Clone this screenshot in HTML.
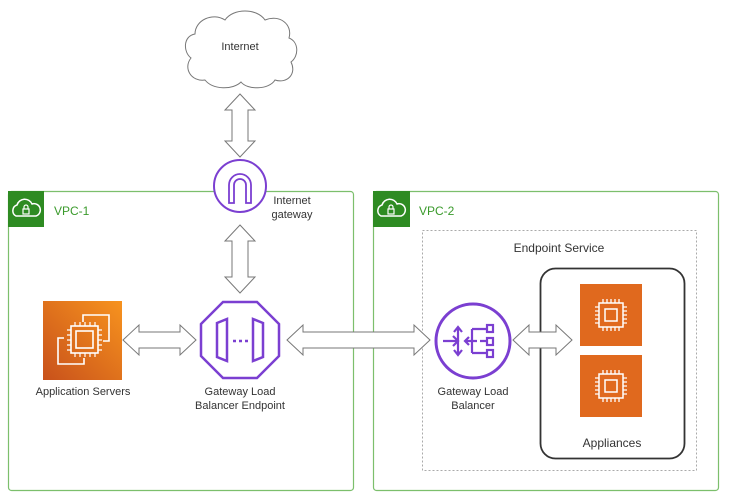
<!DOCTYPE html>
<html><head><meta charset="utf-8"><style>
html,body{margin:0;padding:0;background:#fff;}
svg{display:block;font-family:"Liberation Sans",sans-serif;}
</style></head><body>
<svg width="729" height="502" viewBox="0 0 729 502" xmlns="http://www.w3.org/2000/svg">
<defs>
<g id="lock"><path d="M-10,5 a6,6 0 0 1 1,-11 a8,8 0 0 1 15,-1 a6,6 0 0 1 4,12 z" fill="none" stroke="#fff" stroke-width="1.5"/><rect x="-3" y="-2" width="6" height="5" fill="none" stroke="#fff" stroke-width="1.2"/><path d="M-2,-2 v-2 a2,2 0 0 1 4,0 v2" fill="none" stroke="#fff" stroke-width="1.2"/></g>
<linearGradient id="og" x1="0" y1="1" x2="1" y2="0"><stop offset="0" stop-color="#c8511b"/><stop offset="1" stop-color="#f7931e"/></linearGradient>
<g id="chip"><rect x="-12" y="-12" width="24" height="24" fill="none" stroke="#fff" stroke-width="1.5"/><rect x="-6" y="-6" width="12" height="12" fill="none" stroke="#fff" stroke-width="1.5"/>
<path d="M-8,-12v-4M-4,-12v-4M0,-12v-4M4,-12v-4M8,-12v-4M-8,12v4M-4,12v4M0,12v4M4,12v4M8,12v4M-12,-8h-4M-12,-4h-4M-12,0h-4M-12,4h-4M-12,8h-4M12,-8h4M12,-4h4M12,0h4M12,4h4M12,8h4" stroke="#fff" stroke-width="1.3"/></g>
</defs>
<rect x="8.5" y="191.5" width="345" height="299" rx="3" fill="none" stroke="#7cbf6c" stroke-width="1.2"/>
<rect x="8" y="191" width="36" height="36" fill="#2e8b22"/>
<use href="#lock" x="26" y="211"/>
<text x="54" y="215" font-size="12" fill="#3a9a2b">VPC-1</text>
<rect x="373.5" y="191.5" width="345" height="299" rx="3" fill="none" stroke="#7cbf6c" stroke-width="1.2"/>
<rect x="373" y="191" width="37" height="36" fill="#2e8b22"/>
<use href="#lock" x="391" y="211"/>
<text x="419" y="215" font-size="12" fill="#3a9a2b">VPC-2</text>
<rect x="422.5" y="230.5" width="274" height="240" fill="none" stroke="#aaa" stroke-dasharray="2,2"/>
<text x="559" y="252" font-size="12" text-anchor="middle" fill="#333">Endpoint Service</text>
<rect x="540.5" y="268.5" width="144" height="190" rx="15" fill="none" stroke="#333" stroke-width="1.8"/>
<text x="612" y="447" font-size="12" text-anchor="middle" fill="#333">Appliances</text>
<rect x="580" y="284" width="62" height="62" fill="#e0691e"/><use href="#chip" x="611" y="315"/>
<rect x="580" y="355" width="62" height="62" fill="#e0691e"/><use href="#chip" x="611" y="386"/>
<path d="M205,80 c-14,2 -22,-12 -14,-22 c-8,-6 -8,-22 4,-24 c0,-14 18,-22 30,-14 c8,-12 32,-12 40,0 c14,-6 28,4 24,18 c10,4 10,18 2,24 c6,12 -4,22 -16,18 c-6,10 -28,10 -34,2 c-8,8 -28,8 -36,-2 z" fill="#fff" stroke="#777" stroke-width="1"/>
<text x="240" y="50" font-size="11" text-anchor="middle" fill="#333">Internet</text>
<g fill="#fff" stroke="#777" stroke-width="1">
<polygon points="240,94 255,110 248,110 248,141 255,141 240,157 225,141 232,141 232,110 225,110"/>
<polygon points="240,225 255,241 248,241 248,277 255,277 240,293 225,277 232,277 232,241 225,241"/>
<polygon points="123,340 139,325 139,332 180,332 180,325 196,340 180,355 180,348 139,348 139,355"/>
<polygon points="287,340 303,325 303,332 414,332 414,325 430,340 414,355 414,348 303,348 303,355"/>
<polygon points="513,340 529,325 529,332 556,332 556,325 572,340 556,355 556,348 529,348 529,355"/>
</g>
<circle cx="240" cy="186" r="26" fill="#fff" stroke="#7b3fd1" stroke-width="2"/>
<path d="M229,203 v-18 a11,11 0 0 1 22,0 v18 h-5 v-18 a6,6 0 0 0 -12,0 v18 z" fill="none" stroke="#7b3fd1" stroke-width="1.8"/>
<text x="292" y="204" font-size="11" text-anchor="middle" fill="#333">Internet</text>
<text x="292" y="218" font-size="11" text-anchor="middle" fill="#333">gateway</text>
<rect x="43" y="301" width="79" height="79" fill="url(#og)"/>
<g fill="none" stroke="#fff" stroke-width="1.6">
<path d="M83,322 v-7 h26 v26 h-6"/>
<path d="M64,338 h-6 v26 h26 v-6"/>
<rect x="71" y="326" width="27" height="27"/>
<rect x="76" y="331" width="17" height="17"/>
<path d="M75,326v-4M80,326v-4M85,326v-4M90,326v-4M95,326v-4M75,353v4M80,353v4M85,353v4M90,353v4M95,353v4M71,330h-4M71,335h-4M71,340h-4M71,345h-4M71,350h-4M98,330h4M98,335h4M98,340h4M98,345h4M98,350h4" stroke-width="1.2"/>
</g>
<text x="83" y="395" font-size="11" text-anchor="middle" fill="#333">Application Servers</text>
<polygon points="223,302 257,302 279,324 279,356 257,378 223,378 201,356 201,324" fill="#fff" stroke="#7b3fd1" stroke-width="2.5"/>
<path d="M217,323 l10,-4 v42 l-10,-4 z M263,323 l-10,-4 v42 l10,-4 z" fill="none" stroke="#7b3fd1" stroke-width="2.5"/>
<path d="M233,341h3M239,341h3M245,341h3" stroke="#7b3fd1" stroke-width="2.5"/>
<text x="240" y="395" font-size="11" text-anchor="middle" fill="#333">Gateway Load</text>
<text x="240" y="409" font-size="11" text-anchor="middle" fill="#333">Balancer Endpoint</text>
<circle cx="473" cy="341" r="37" fill="#fff" stroke="#7b3fd1" stroke-width="3"/>
<g fill="none" stroke="#7b3fd1" stroke-width="2.2">
<path d="M443,341 h14 M453,336 l5,5 l-5,5"/>
<path d="M458,328 v26 M454,332 l4,-5 l4,5 M454,350 l4,5 l4,-5"/>
<path d="M465,341 h12 M469,337 l-4,4 l4,4"/>
<path d="M472,329 v24 M472,329 h15 M472,353 h15 M480,341 h7"/>
<rect x="487" y="325" width="6" height="7"/><rect x="487" y="338" width="6" height="7"/><rect x="487" y="350" width="6" height="7"/>
</g>
<text x="473" y="395" font-size="11" text-anchor="middle" fill="#333">Gateway Load</text>
<text x="473" y="409" font-size="11" text-anchor="middle" fill="#333">Balancer</text>
</svg>
</body></html>
